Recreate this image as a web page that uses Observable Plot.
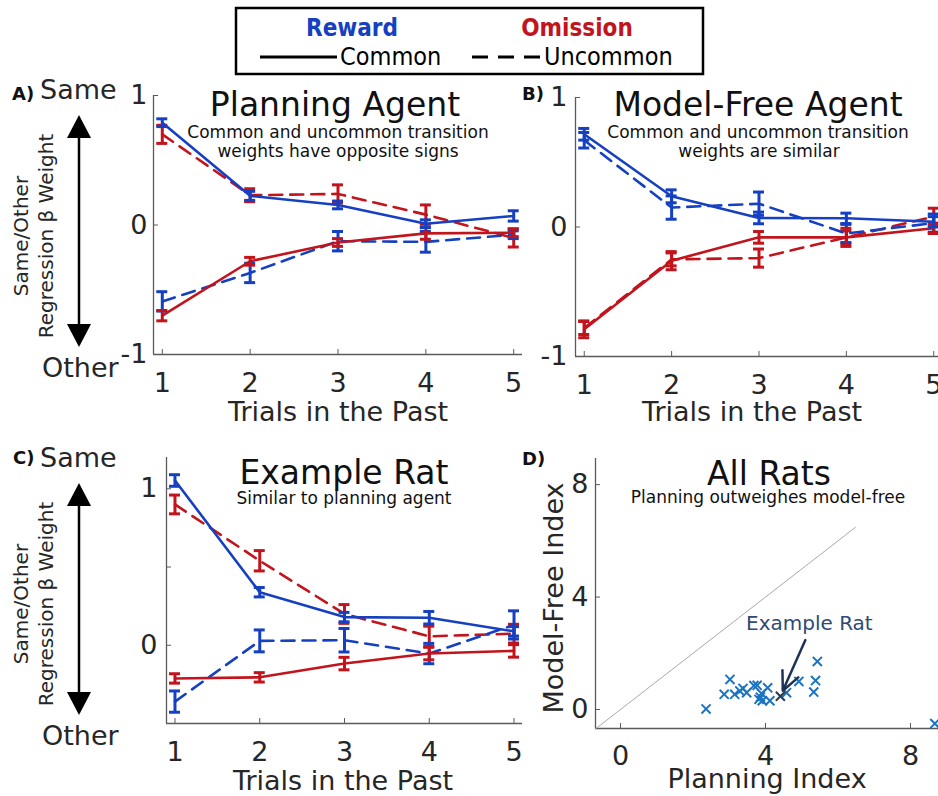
<!DOCTYPE html>
<html><head><meta charset="utf-8">
<script src="https://cdn.jsdelivr.net/npm/d3@7"></script>
<script src="https://cdn.jsdelivr.net/npm/@observablehq/plot@0.6"></script>
<style>
body{margin:0;background:#fff;}
#root{position:relative;width:938px;height:796px;overflow:hidden;background:#fff;}
</style></head><body><div id="root"></div>
<script>
// ---------- data ----------
const trials = [1, 2, 3, 4, 5];

// Panel A: Planning Agent
const aRewardCommon = [0.79, 0.225, 0.155, 0.01, 0.07];
const aRewardCommonErr = [0.03, 0.035, 0.03, 0.03, 0.04];
const aRewardUncommon = [-0.59, -0.37, -0.125, -0.13, -0.075];
const aRewardUncommonErr = [0.075, 0.075, 0.075, 0.08, 0.03];
const aOmissionCommon = [-0.70, -0.28, -0.135, -0.065, -0.06];
const aOmissionCommonErr = [0.04, 0.03, 0.03, 0.045, 0.03];
const aOmissionUncommon = [0.70, 0.23, 0.24, 0.08, -0.10];
const aOmissionUncommonErr = [0.07, 0.05, 0.07, 0.075, 0.07];

// Panel B: Model-Free Agent
const bRewardCommon = [0.716, 0.237, 0.07, 0.067, 0.04];
const bRewardCommonErr = [0.045, 0.05, 0.045, 0.04, 0.04];
const bRewardUncommon = [0.67, 0.15, 0.18, -0.05, 0.03];
const bRewardUncommonErr = [0.06, 0.09, 0.09, 0.07, 0.07];
const bOmissionCommon = [-0.79, -0.26, -0.08, -0.08, -0.01];
const bOmissionCommonErr = [0.065, 0.07, 0.045, 0.07, 0.04];
const bOmissionUncommon = [-0.78, -0.25, -0.24, -0.08, 0.08];
const bOmissionUncommonErr = [0.05, 0.05, 0.07, 0.05, 0.065];

// Panel C: Example Rat
const cRewardCommon = [1.053, 0.339, 0.18, 0.176, 0.089];
const cRewardCommonErr = [0.037, 0.03, 0.03, 0.04, 0.03];
const cRewardUncommon = [-0.36, 0.028, 0.032, -0.053, 0.13];
const cRewardUncommonErr = [0.068, 0.07, 0.075, 0.065, 0.09];
const cOmissionCommon = [-0.212, -0.205, -0.117, -0.053, -0.036];
const cOmissionCommonErr = [0.03, 0.03, 0.04, 0.04, 0.04];
const cOmissionUncommon = [0.90, 0.54, 0.20, 0.057, 0.074];
const cOmissionUncommonErr = [0.06, 0.065, 0.06, 0.065, 0.06];

// Panel D: All Rats
const planningIndex = [2.36, 2.86, 3.02, 3.15, 3.29, 3.38, 3.48, 3.68, 3.77, 3.82, 3.86, 3.89, 3.91, 4.06, 4.12, 4.58, 4.92, 5.33, 5.38, 5.43, 8.67];
const modelFreeIndex = [0.02, 0.54, 1.07, 0.54, 0.66, 0.75, 0.60, 0.85, 0.86, 0.36, 0.44, 0.57, 0.31, 0.77, 0.31, 0.60, 1.00, 0.62, 1.03, 1.71, -0.50];
const exampleRatPlanning = [4.41];
const exampleRatModelFree = [0.47];
const identityLine = [-0.7, 6.48];

const xTicksLine = trials;
const yTicksAB = [-1, 0, 1];
const yTicksC = [-0.5, 0, 0.5, 1];
const yLabelsC = [0, 1];
const ticksD = [0, 4, 8];

// ---------- style ----------
const BLUE = "#1640c2", RED = "#c2141c", SCAT = "#1a74c2", DARK = "#2a3a52";
const AXIS = "#5a5a5a", TXT = "#262626";
const FONT = "DejaVu Sans";
const W = 960, H = 796;

const root = document.getElementById("root");

function place(svg) {
  svg.style.position = "absolute";
  svg.style.left = "0px";
  svg.style.top = "0px";
  root.appendChild(svg);
}

function rows(values, errs) {
  return trials.map((t, i) => ({x: t, y: values[i], e: errs[i]}));
}

function seriesMarks(values, errs, color, dashed, cap) {
  const d = rows(values, errs);
  return [
    Plot.line(d, {x: "x", y: "y", stroke: color, strokeWidth: 2.6, strokeDasharray: dashed ? "13,8" : null}),
    Plot.ruleX(d, {x: "x", y1: r => r.y - r.e, y2: r => r.y + r.e, stroke: color, strokeWidth: 3}),
    Plot.ruleY(d, {y: r => r.y - r.e, x1: r => r.x - cap, x2: r => r.x + cap, stroke: color, strokeWidth: 3}),
    Plot.ruleY(d, {y: r => r.y + r.e, x1: r => r.x - cap, x2: r => r.x + cap, stroke: color, strokeWidth: 3})
  ];
}

function linePanel(o) {
  const cap = 5.5 / ((o.R - o.L) / (o.xDomain[1] - o.xDomain[0]));
  const s = o.series;
  const marks = [
    Plot.ruleX([o.xDomain[0]], {stroke: AXIS, strokeWidth: 1.3}),
    Plot.ruleY([o.yDomain[0]], {stroke: AXIS, strokeWidth: 1.3}),
    Plot.axisX({ticks: xTicksLine, tickSize: -5, tickPadding: 23, fontSize: 27, color: TXT, stroke: AXIS, label: null, tickFormat: d => String(d)}),
    Plot.axisY({ticks: o.yTicks, tickSize: -5, tickPadding: o.yPad, fontSize: 27, color: TXT, stroke: AXIS, label: null,
      tickFormat: d => (o.yLabels ? (o.yLabels.includes(d) ? String(d) : "") : String(d))}),
    ...seriesMarks(s.ou, s.oue, RED, true, cap),
    ...seriesMarks(s.ru, s.rue, BLUE, true, cap),
    ...seriesMarks(s.oc, s.oce, RED, false, cap),
    ...seriesMarks(s.rc, s.rce, BLUE, false, cap)
  ];
  return Plot.plot({
    width: W, height: H,
    marginLeft: o.L, marginRight: W - o.R, marginTop: o.T, marginBottom: H - o.B,
    x: {domain: o.xDomain}, y: {domain: o.yDomain},
    style: {fontFamily: FONT, background: "transparent", maxWidth: "none", overflow: "visible"},
    marks
  });
}

place(linePanel({
  L: 153, R: 522, T: 95, B: 354, xDomain: [0.9, 5.1], yDomain: [-1, 1], yTicks: yTicksAB, yPad: 11,
  series: {rc: aRewardCommon, rce: aRewardCommonErr, ru: aRewardUncommon, rue: aRewardUncommonErr,
           oc: aOmissionCommon, oce: aOmissionCommonErr, ou: aOmissionUncommon, oue: aOmissionUncommonErr}
}));
place(linePanel({
  L: 575, R: 942, T: 97, B: 356, xDomain: [0.9, 5.1], yDomain: [-1, 1], yTicks: yTicksAB, yPad: 13,
  series: {rc: bRewardCommon, rce: bRewardCommonErr, ru: bRewardUncommon, rue: bRewardUncommonErr,
           oc: bOmissionCommon, oce: bOmissionCommonErr, ou: bOmissionUncommon, oue: bOmissionUncommonErr}
}));
place(linePanel({
  L: 166, R: 522, T: 457, B: 723, xDomain: [0.9, 5.1], yDomain: [-0.5, 1.2], yTicks: yTicksC, yLabels: yLabelsC, yPad: 14,
  series: {rc: cRewardCommon, rce: cRewardCommonErr, ru: cRewardUncommon, rue: cRewardUncommonErr,
           oc: cOmissionCommon, oce: cOmissionCommonErr, ou: cOmissionUncommon, oue: cOmissionUncommonErr}
}));

// Panel D scatter
const ratPoints = planningIndex.map((p, i) => ({p, m: modelFreeIndex[i]}));
const examplePoint = exampleRatPlanning.map((p, i) => ({p, m: exampleRatModelFree[i]}));
const dX = [-0.69, 8.855], dY = [-0.676, 8.93];
place(Plot.plot({
  width: W, height: H,
  marginLeft: 595, marginRight: W - 941, marginTop: 458, marginBottom: H - 728,
  x: {domain: dX}, y: {domain: dY},
  style: {fontFamily: FONT, background: "transparent", maxWidth: "none", overflow: "visible"},
  marks: [
    Plot.ruleX([dX[0]], {stroke: AXIS, strokeWidth: 1.3}),
    Plot.ruleY([dY[0]], {stroke: AXIS, strokeWidth: 1.3}),
    Plot.axisX({ticks: ticksD, tickSize: -5, tickPadding: 22, fontSize: 27, color: TXT, stroke: AXIS, label: null}),
    Plot.axisY({ticks: ticksD, tickSize: -5, tickPadding: 12, fontSize: 27, color: TXT, stroke: AXIS, label: null}),
    Plot.line(identityLine, {x: d => d, y: d => d, stroke: "#a8a8a8", strokeWidth: 1}),
    Plot.dot(ratPoints, {x: "p", y: "m", symbol: "times", r: 4.2, stroke: SCAT, strokeWidth: 2}),
    Plot.dot(examplePoint, {x: "p", y: "m", symbol: "times", r: 4.2, stroke: DARK, strokeWidth: 2}),
    Plot.arrow(examplePoint, {x1: 5.1, y1: 2.47, x2: "p", y2: "m", insetEnd: 6, headLength: 14, headAngle: 50, stroke: "#1f3356", strokeWidth: 2.5}),
    Plot.text(["Example Rat"], {x: 5.21, y: 3.05, text: d => d, fontSize: 20, fill: "#2e4a72", textAnchor: "middle"})
  ]
}));

// ---------- overlay text & decorations ----------
const ov = d3.select(root).append("svg")
  .attr("width", 938).attr("height", 796)
  .style("position", "absolute").style("left", 0).style("top", 0);

function txt(x, y, s, o = {}) {
  const t = ov.append("text").attr("x", x).attr("y", y).text(s)
    .attr("font-family", o.family || FONT).attr("font-size", o.size || 27)
    .attr("font-weight", o.weight || "normal").attr("fill", o.fill || "#111")
    .attr("text-anchor", o.anchor || "start");
  if (o.stretch) t.style("font-stretch", o.stretch);
  if (o.rotate) t.attr("transform", `rotate(-90,${x},${y})`);
  return t;
}

// Legend
ov.append("rect").attr("x", 236).attr("y", 8).attr("width", 467).attr("height", 66)
  .attr("fill", "#fff").attr("stroke", "#000").attr("stroke-width", 2.5);
const LF = "DejaVu Sans Condensed, DejaVu Sans";
txt(352, 36, "Reward", {family: LF, stretch: "condensed", size: 24, weight: "bold", fill: BLUE, anchor: "middle"});
txt(577, 36, "Omission", {family: LF, stretch: "condensed", size: 24, weight: "bold", fill: RED, anchor: "middle"});
ov.append("line").attr("x1", 260).attr("x2", 337).attr("y1", 57).attr("y2", 57).attr("stroke", "#000").attr("stroke-width", 3);
ov.append("line").attr("x1", 472).attr("x2", 540).attr("y1", 57).attr("y2", 57).attr("stroke", "#000").attr("stroke-width", 3).attr("stroke-dasharray", "16,10");
txt(340, 65, "Common", {family: LF, stretch: "condensed", size: 25, fill: "#000"});
txt(544, 65, "Uncommon", {family: LF, stretch: "condensed", size: 25, fill: "#000"});

// Panel letters
txt(12, 100, "A)", {size: 18, weight: "bold"});
txt(522, 100, "B)", {size: 18, weight: "bold"});
txt(13, 464, "C)", {size: 18, weight: "bold"});
txt(522, 465, "D)", {size: 18, weight: "bold"});

// Same/Other y-label blocks
function sameOther(dy) {
  txt(40, 99 + dy, "Same", {size: 27, fill: TXT});
  txt(42, 377 + dy, "Other", {size: 27, fill: TXT});
  const top = 115 + dy, bot = 347 + dy, cx = 79;
  ov.append("line").attr("x1", cx).attr("x2", cx).attr("y1", top + 18).attr("y2", bot - 18).attr("stroke", "#000").attr("stroke-width", 2.5);
  ov.append("path").attr("d", `M${cx},${top} L${cx - 12},${top + 23} L${cx + 12},${top + 23} Z`).attr("fill", "#000");
  ov.append("path").attr("d", `M${cx},${bot} L${cx - 12},${bot - 23} L${cx + 12},${bot - 23} Z`).attr("fill", "#000");
  txt(28, 236 + dy, "Same/Other", {size: 20, fill: TXT, anchor: "middle", rotate: true});
  txt(53, 236 + dy, "Regression β Weight", {size: 20, fill: TXT, anchor: "middle", rotate: true});
}
sameOther(0);
sameOther(368);

// Titles & subtitles
txt(335, 116, "Planning Agent", {size: 33, anchor: "middle"});
txt(338, 138, "Common and uncommon transition", {size: 17, anchor: "middle"});
txt(338, 157, "weights have opposite signs", {size: 17, anchor: "middle"});

txt(758, 116, "Model-Free Agent", {size: 33, anchor: "middle"});
txt(758, 138, "Common and uncommon transition", {size: 17, anchor: "middle"});
txt(759, 157, "weights are similar", {size: 17, anchor: "middle"});

txt(344, 484, "Example Rat", {size: 33, anchor: "middle"});
txt(344, 504, "Similar to planning agent", {size: 17, anchor: "middle"});

txt(769, 485, "All Rats", {size: 33, anchor: "middle"});
txt(768, 503, "Planning outweighes model-free", {size: 17, anchor: "middle"});

// Axis labels
txt(338, 421, "Trials in the Past", {size: 27, fill: TXT, anchor: "middle"});
txt(752, 421, "Trials in the Past", {size: 27, fill: TXT, anchor: "middle"});
txt(343, 790, "Trials in the Past", {size: 27, fill: TXT, anchor: "middle"});
txt(767, 788, "Planning Index", {size: 27, fill: TXT, anchor: "middle"});
txt(563, 598, "Model-Free Index", {size: 27, fill: TXT, anchor: "middle", rotate: true});
</script></body></html>
